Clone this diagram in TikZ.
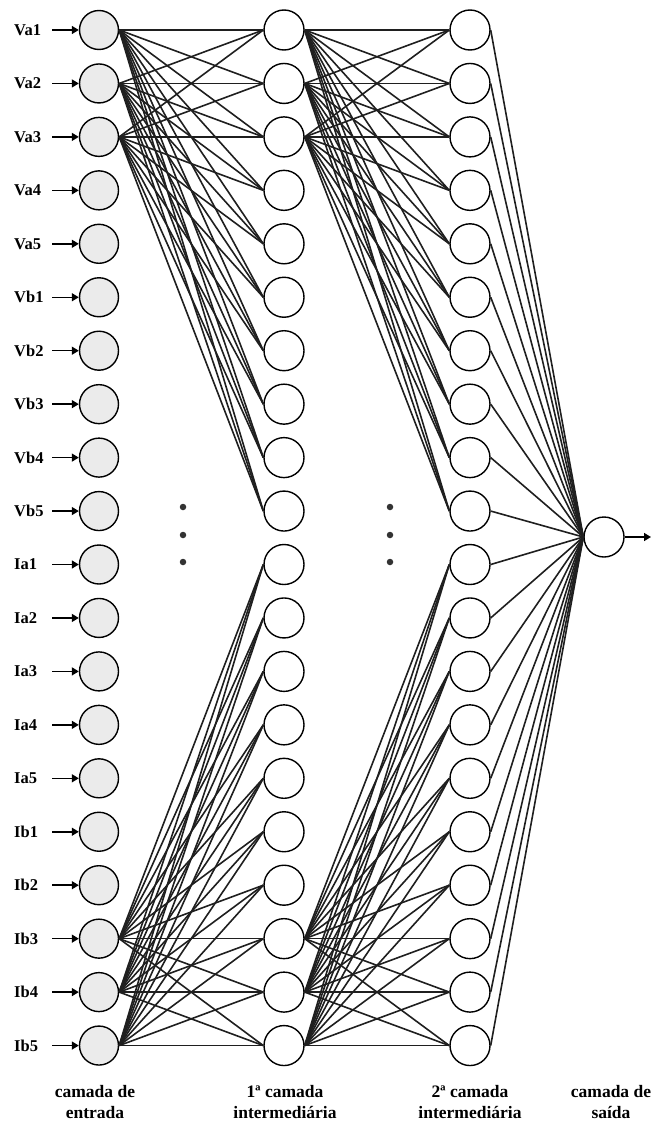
\documentclass[tikz,border=0pt]{standalone}
\usepackage{fontspec}
\setmainfont{Liberation Serif}
\usepackage{tikz}
\usetikzlibrary{arrows.meta}

\begin{document}
\begin{tikzpicture}[x=1pt, y=-1pt,
    inp/.style={draw, circle, fill=black!8, line width=1.4pt, minimum size=39pt, inner sep=0pt},
    hid/.style={draw, circle, fill=white, line width=1.4pt, minimum size=40pt, inner sep=0pt},
    lbl/.style={anchor=west, inner sep=0pt, font=\fontsize{16.5}{18}\selectfont\bfseries},
    layercap/.style={align=center, font=\fontsize{17.5}{21}\selectfont\bfseries},
    link/.style={line width=1.6pt, draw=black!88},
    feed/.style={-{Triangle[length=7pt,width=8pt]}, line width=1.5pt},
    dot/.style={circle, fill=black!80, inner sep=0pt, minimum size=6.5pt}]
  \useasboundingbox (0,0) rectangle (656,1124);

  % Input layer with its labels
  \foreach \lab [count=\i] in {Va1,Va2,Va3,Va4,Va5,Vb1,Vb2,Vb3,Vb4,Vb5,Ia1,Ia2,Ia3,Ia4,Ia5,Ib1,Ib2,Ib3,Ib4,Ib5} {
    \pgfmathsetmacro{\yy}{30+(\i-1)*53.45}
    \node[inp] (in\i) at (99,\yy) {};
    \node[lbl] (lab\i) at (14,\yy) {\lab};
    \coordinate (src\i) at (52,\yy);
    \draw[feed] (src\i) -- (in\i.west);
  }

  % Hidden layers
  \foreach \i in {1,...,20} {
    \pgfmathsetmacro{\yy}{30+(\i-1)*53.45}
    \node[hid] (hA\i) at (284,\yy) {};
    \node[hid] (hB\i) at (470,\yy) {};
  }

  % Output neuron
  \node[hid] (out) at (604,537) {};
  \coordinate (yout) at (651,537);
  \draw[feed] (out.east) -- (yout);

  % Dots between the two halves
  \foreach \d [count=\k] in {507,535,562} {
    \node[dot] (dA\k) at (183,\d) {};
    \node[dot] (dB\k) at (390,\d) {};
  }

  % Weights: input -> 1st hidden
  \foreach \s in {1,2,3}
    \foreach \t in {1,...,10}
      \draw[link] (in\s.east) -- (hA\t.west);
  \foreach \s in {18,19,20}
    \foreach \t in {11,...,20}
      \draw[link] (in\s.east) -- (hA\t.west);

  % Weights: 1st hidden -> 2nd hidden
  \foreach \s in {1,2,3}
    \foreach \t in {1,...,10}
      \draw[link] (hA\s.east) -- (hB\t.west);
  \foreach \s in {18,19,20}
    \foreach \t in {11,...,20}
      \draw[link] (hA\s.east) -- (hB\t.west);

  % Weights: 2nd hidden -> output
  \foreach \t in {1,...,20}
    \draw[link] (hB\t.east) -- (out.west);

  % Layer captions
  \node[layercap] (capIn) at (95,1102) {camada de\\entrada};
  \node[layercap] (capA) at (285,1102) {1ª camada\\intermediária};
  \node[layercap] (capB) at (470,1102) {2ª camada\\intermediária};
  \node[layercap] (capOut) at (611,1102) {camada de\\saída};
\end{tikzpicture}
\end{document}
